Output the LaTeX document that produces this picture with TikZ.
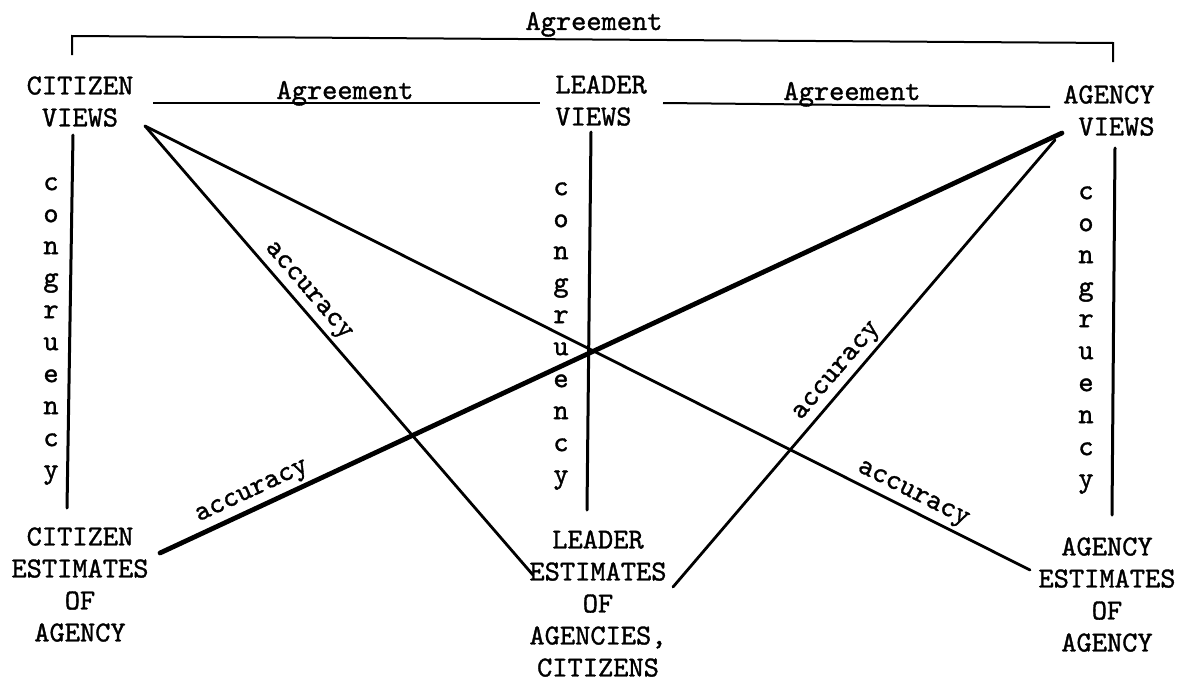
\documentclass[tikz,border=0pt]{standalone}
\usepackage{fontspec}
\newfontfamily\tw{lmmono10-regular.otf}[FakeBold=1.2]
\begin{document}
\begin{tikzpicture}[x=0.5pt,y=-0.5pt,
  txt/.style={font=\tw\fontsize{14.5}{16}\selectfont, inner sep=0pt},
  lbl/.style={font=\tw\fontsize{14.5}{16}\selectfont, inner sep=1.5pt},
  ln/.style={line width=1.4pt, line cap=round},
  tk/.style={line width=2.4pt, line cap=round},
  vl/.style={line width=1.5pt, line cap=round},
  ag/.style={line width=1pt}]
\useasboundingbox (0,0) rectangle (1190,680);

% main labels
\node[txt, align=center, anchor=north] (cv) at (80,76) {CITIZEN\\VIEWS};
\node[txt, align=left, anchor=north west] (lv) at (555,75) {LEADER\\VIEWS};
\node[txt, align=right, anchor=north east] (av) at (1155,85) {AGENCY\\VIEWS};
\node[txt, align=center, anchor=north] (ce) at (80,527) {CITIZEN\\ESTIMATES\\OF\\AGENCY};
\node[txt, align=center, anchor=north] (le) at (598,530) {LEADER\\ESTIMATES\\OF\\AGENCIES,\\CITIZENS};
\node[txt, align=center, anchor=north] (ae) at (1107,537) {AGENCY\\ESTIMATES\\OF\\AGENCY};

% congruency columns
\node[txt, align=center, anchor=north] (cg1) at (51,177) {c\\o\\n\\g\\r\\u\\e\\n\\c\\y};
\node[txt, align=center, anchor=north] (cg2) at (561,182) {c\\o\\n\\g\\r\\u\\e\\n\\c\\y};
\node[txt, align=center, anchor=north] (cg3) at (1086,186) {c\\o\\n\\g\\r\\u\\e\\n\\c\\y};

% connector end points
\coordinate (cvA) at (145,126);
\coordinate (avA) at (1062,133);
\coordinate (avB) at (1055,140);
\coordinate (leA) at (533,575);
\coordinate (leB) at (673,587);
\coordinate (aeA) at (1030,570);
\coordinate (ceA) at (160,553);

\coordinate (cvV) at (73,135);
\coordinate (ceV) at (67,508);
\coordinate (lvV) at (591,132);
\coordinate (leV) at (587,510);
\coordinate (avV) at (1115,148);
\coordinate (aeV) at (1112,515);

\coordinate (cvR) at (153,103);
\coordinate (lvL) at (540,103);
\coordinate (lvR) at (663,103);
\coordinate (avL) at (1050,107);

\coordinate (cvT) at (72,55);
\coordinate (cvTT) at (72,36);
\coordinate (avTT) at (1113,43);
\coordinate (avT) at (1113,62);

% congruency lines
\draw[vl] (cvV) -- (ceV);
\draw[vl] (lvV) -- (leV);
\draw[vl] (avV) -- (aeV);

% agreement lines
\draw[ag] (cvR) -- (lvL);
\draw[ag] (lvR) -- (avL);
\draw[ag] (cvT) -- (cvTT) -- (avTT) -- (avT);
\node[txt, anchor=base] (ag1) at (345,99) {Agreement};
\node[txt, anchor=base] (ag2) at (852,100) {Agreement};
\node[txt, anchor=base] (ag3) at (594,30) {Agreement};

% accuracy lines
\draw[ln] (cvA) -- node[lbl, sloped, above, pos=0.39] (ac1) {accuracy} (leA);
\draw[ln] (cvA) -- node[lbl, sloped, above, pos=0.86] (ac2) {accuracy} (aeA);
\draw[tk] (ceA) -- node[lbl, sloped, above, pos=0.11] (ac3) {accuracy} (avA);
\draw[ln] (leB) -- node[lbl, sloped, above, pos=0.46] (ac4) {accuracy} (avB);
\end{tikzpicture}
\end{document}
